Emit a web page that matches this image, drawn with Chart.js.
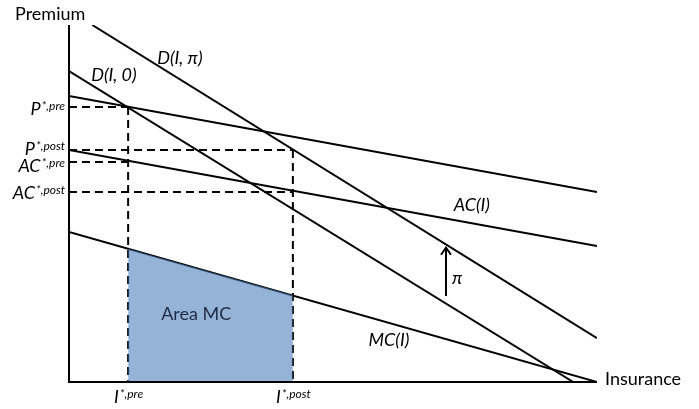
<!DOCTYPE html>
<html>
<head>
<meta charset="utf-8">
<script src="https://cdn.jsdelivr.net/npm/chart.js@4.4.1/dist/chart.umd.min.js"></script>
<style>
  html, body { margin: 0; padding: 0; background: #ffffff; }
  canvas { display: block; }
</style>
</head>
<body>
<canvas id="marketChart" width="699" height="409"></canvas>
<script>
// Lines, as [start, end] points (x = insurance, y = premium)
const demandWithPi = [{ x: 4.4, y: 100 }, { x: 100, y: 12.3 }];
const demandNoPi = [{ x: 0, y: 87.1 }, { x: 95.5, y: 0 }];
const upperAvgCost = [{ x: 0, y: 80.1 }, { x: 100, y: 53.2 }];
const avgCost = [{ x: 0, y: 65.0 }, { x: 100, y: 38.1 }];
const marginalCost = [{ x: 0, y: 42.0 }, { x: 100, y: 0 }];

// Equilibrium values
const insurancePre = 11.2;
const insurancePost = 42.4;
const premiumPre = 77.0;
const premiumPost = 65.0;
const avgCostPre = 61.6;
const avgCostPost = 53.2;

// Top of the shaded area (MC at I*,pre and I*,post)
const areaMC = [{ x: 11.2, y: 37.3 }, { x: 42.4, y: 24.3 }];

// pi shift arrow
const piArrow = [{ x: 71.4, y: 24.1 }, { x: 71.4, y: 37.6 }];

const FONT = "Lato, 'Open Sans', sans-serif";
const dash = [8, 5];

function solid(data) {
  return {
    data: data,
    borderColor: "#000000",
    borderWidth: 2,
    pointRadius: 0,
    showLine: true,
    fill: false,
    order: 2,
  };
}

function dashed(data) {
  return {
    data: data,
    borderColor: "#000000",
    borderWidth: 2,
    borderDash: dash,
    pointRadius: 0,
    showLine: true,
    fill: false,
    order: 3,
  };
}

function drawSup(ctx, base, sup, x, y, align) {
  ctx.font = "italic 18px " + FONT;
  const wb = ctx.measureText(base).width;
  ctx.font = "italic 12px " + FONT;
  const ws = ctx.measureText(sup).width;
  let start = x;
  if (align === "right") start = x - wb - ws - 1;
  if (align === "center") start = x - (wb + ws) / 2;
  ctx.textAlign = "left";
  ctx.textBaseline = "alphabetic";
  ctx.font = "italic 18px " + FONT;
  ctx.fillText(base, start, y);
  ctx.font = "italic 12px " + FONT;
  ctx.fillText(sup, start + wb + 1, y - 5);
}

// axes, arrowhead and all texts
const annotations = {
  id: "annotations",
  afterDatasetsDraw(chart) {
    const ctx = chart.ctx;
    const xs = chart.scales.x;
    const ys = chart.scales.y;
    const area = chart.chartArea;
    ctx.save();

    // axes
    ctx.strokeStyle = "#000000";
    ctx.lineWidth = 2;
    ctx.setLineDash([]);
    ctx.beginPath();
    ctx.moveTo(area.left, area.top);
    ctx.lineTo(area.left, area.bottom);
    ctx.lineTo(area.right, area.bottom);
    ctx.stroke();

    // arrowhead
    const ax = xs.getPixelForValue(piArrow[1].x);
    const ay = ys.getPixelForValue(piArrow[1].y);
    ctx.lineWidth = 2;
    ctx.beginPath();
    ctx.moveTo(ax - 5, ay + 7);
    ctx.lineTo(ax, ay);
    ctx.lineTo(ax + 5, ay + 7);
    ctx.stroke();

    ctx.fillStyle = "#000000";

    // axis titles
    ctx.font = "18px " + FONT;
    ctx.textBaseline = "middle";
    ctx.textAlign = "left";
    ctx.fillText("Premium", 15, 14);
    ctx.fillText("Insurance", area.right + 8, area.bottom - 3);

    // premium levels on the vertical axis
    const yLabels = [
      ["P", "*,pre", premiumPre, 8],
      ["P", "*,post", premiumPost, 5],
      ["AC", "*,pre", avgCostPre, 10],
      ["AC", "*,post", avgCostPost, 7],
    ];
    yLabels.forEach(function (l) {
      drawSup(ctx, l[0], l[1], area.left - 4, ys.getPixelForValue(l[2]) + l[3], "right");
    });

    // insurance levels under the horizontal axis
    drawSup(ctx, "I", "*,pre", xs.getPixelForValue(insurancePre), area.bottom + 21, "center");
    drawSup(ctx, "I", "*,post", xs.getPixelForValue(insurancePost), area.bottom + 21, "center");

    // curve names
    const curveLabels = [
      ["D(I, π)", 16.7, 90.8, "left"],
      ["D(I, 0)", 4.2, 86.0, "left"],
      ["AC(I)", 76.3, 49.6, "center"],
      ["MC(I)", 60.6, 11.8, "center"],
      ["π", 73.5, 29.1, "center"],
    ];
    ctx.font = "italic 18px " + FONT;
    ctx.textBaseline = "middle";
    curveLabels.forEach(function (l) {
      ctx.textAlign = l[3];
      ctx.fillText(l[0], xs.getPixelForValue(l[1]), ys.getPixelForValue(l[2]));
    });

    ctx.font = "18px " + FONT;
    ctx.textAlign = "center";
    ctx.textBaseline = "middle";
    ctx.fillStyle = "#1f2b45";
    ctx.fillText("Area MC", xs.getPixelForValue(24.1), ys.getPixelForValue(19.0));

    ctx.restore();
  },
};

const ctx = document.getElementById("marketChart").getContext("2d");
window.marketChart = new Chart(ctx, {
  type: "scatter",
  data: {
    datasets: [
      {
        data: areaMC,
        borderWidth: 0,
        borderColor: "rgba(0,0,0,0)",
        backgroundColor: "rgba(79,129,189,0.6)",
        pointRadius: 0,
        showLine: true,
        fill: "origin",
        order: 1,
      },
      solid(demandWithPi),
      solid(demandNoPi),
      solid(upperAvgCost),
      solid(avgCost),
      solid(marginalCost),
      solid(piArrow),
      dashed([{ x: 0, y: premiumPre }, { x: insurancePre, y: premiumPre }]),
      dashed([{ x: insurancePre, y: premiumPre }, { x: insurancePre, y: 0 }]),
      dashed([{ x: 0, y: avgCostPre }, { x: insurancePre, y: avgCostPre }]),
      dashed([{ x: 0, y: premiumPost }, { x: insurancePost, y: premiumPost }]),
      dashed([{ x: insurancePost, y: premiumPost }, { x: insurancePost, y: 0 }]),
      dashed([{ x: 0, y: avgCostPost }, { x: insurancePost, y: avgCostPost }]),
    ],
  },
  options: {
    responsive: false,
    animation: false,
    devicePixelRatio: 1,
    layout: {
      padding: { left: 69, right: 102, top: 25, bottom: 27 },
    },
    scales: {
      x: { type: "linear", min: 0, max: 100, display: false },
      y: { type: "linear", min: 0, max: 100, display: false },
    },
    plugins: {
      legend: { display: false },
      tooltip: { enabled: false },
      title: { display: false },
    },
  },
  plugins: [annotations],
});
</script>
</body>
</html>
